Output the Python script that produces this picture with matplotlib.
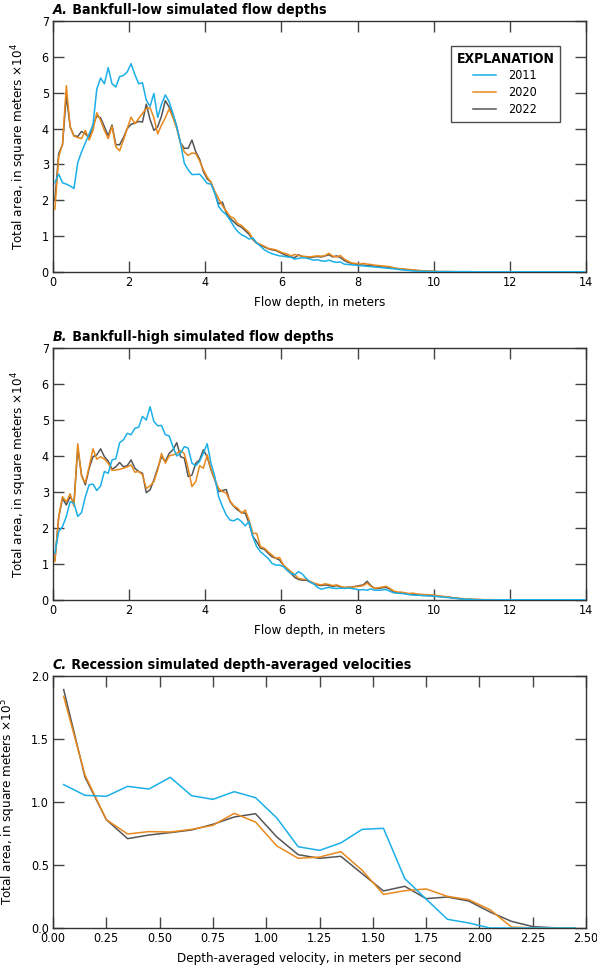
import numpy as np
import matplotlib
matplotlib.use("Agg")
import matplotlib.pyplot as plt
from matplotlib import font_manager as fm
from matplotlib.ticker import FixedLocator, FormatStrFormatter

# ---------------- data ----------------
# Panel A: bankfull-low flow depths (bins of 0.1 m, centred at 0.05, 0.15, ...), area x10^4 m^2
a_2011 = [2.49, 2.73, 2.49, 2.45, 2.40, 2.33, 3.05, 3.35, 3.60, 3.85,
          4.10, 5.10, 5.41, 5.25, 5.70, 5.25, 5.16, 5.45, 5.48, 5.58,
          5.81, 5.51, 5.25, 5.28, 4.79, 4.62, 4.98, 4.31, 4.68, 4.94,
          4.75, 4.42, 4.05, 3.59, 3.03, 2.85, 2.72, 2.72, 2.73, 2.61,
          2.47, 2.45, 2.20, 1.83, 1.69, 1.60, 1.45, 1.27, 1.13, 1.04,
          0.99, 0.92, 0.95, 0.81, 0.72, 0.62, 0.56, 0.51, 0.48, 0.45,
          0.44, 0.42, 0.41, 0.36, 0.38, 0.40, 0.39, 0.36, 0.33, 0.34,
          0.31, 0.30, 0.33, 0.29, 0.27, 0.28, 0.22, 0.21, 0.20, 0.19,
          0.18, 0.17, 0.16, 0.15, 0.14, 0.13, 0.12, 0.11, 0.10, 0.09,
          0.08, 0.06, 0.05, 0.04, 0.03, 0.02, 0.02, 0.02, 0.01, 0.01,
          0.01, 0.01, 0.01, 0.01, 0.01, 0.01, 0.01, 0.01, 0.01, 0.01,
          0.005, 0.005, 0.005, 0.005, 0.005, 0.005, 0.005, 0.005, 0.005, 0.005,
          0.005, 0.005, 0.005, 0.005, 0.005, 0.005, 0.005, 0.005, 0.005, 0.005,
          0.005, 0.005, 0.005, 0.005, 0.005, 0.005, 0.005, 0.005, 0.005, 0.005]
a_2020 = [1.75, 3.21, 3.58, 5.20, 4.05, 3.79, 3.75, 3.72, 3.95, 3.68,
          3.95, 4.44, 4.23, 3.95, 3.72, 4.06, 3.49, 3.38, 3.68, 4.00,
          4.32, 4.14, 4.28, 4.42, 4.56, 4.58, 4.30, 3.85, 4.10, 4.30,
          4.55, 4.30, 4.00, 3.60, 3.35, 3.25, 3.32, 3.30, 3.10, 2.85,
          2.65, 2.50, 2.25, 2.05, 1.85, 1.70, 1.55, 1.50, 1.35, 1.30,
          1.20, 1.10, 0.92, 0.82, 0.77, 0.72, 0.66, 0.64, 0.62, 0.57,
          0.53, 0.50, 0.45, 0.49, 0.46, 0.44, 0.43, 0.42, 0.44, 0.45,
          0.44, 0.46, 0.52, 0.44, 0.42, 0.46, 0.36, 0.30, 0.25, 0.24,
          0.22, 0.24, 0.22, 0.21, 0.19, 0.18, 0.17, 0.16, 0.15, 0.12,
          0.10, 0.09, 0.08, 0.07, 0.06, 0.05, 0.04, 0.03, 0.02, 0.02,
          0.02, 0.01, 0.01, 0.01, 0.01, 0.01, 0.005, 0.005, 0.005, 0.005,
          0.005, 0.005, 0.005, 0.005, 0.005, 0.005, 0.0, 0.0, 0.0, 0.0]
a_2022 = [2.00, 3.30, 3.55, 4.92, 4.05, 3.80, 3.78, 3.92, 3.85, 3.75,
          4.10, 4.35, 4.30, 4.05, 3.80, 4.10, 3.55, 3.55, 3.75, 4.00,
          4.12, 4.15, 4.20, 4.18, 4.68, 4.25, 3.95, 4.05, 4.35, 4.78,
          4.60, 4.40, 4.05, 3.60, 3.45, 3.45, 3.68, 3.35, 3.15, 2.80,
          2.60, 2.50, 2.20, 1.90, 1.95, 1.65, 1.50, 1.40, 1.30, 1.25,
          1.15, 1.05, 0.90, 0.80, 0.75, 0.70, 0.65, 0.62, 0.60, 0.55,
          0.50, 0.45, 0.42, 0.40, 0.48, 0.43, 0.42, 0.40, 0.42, 0.43,
          0.42, 0.45, 0.48, 0.42, 0.45, 0.40, 0.32, 0.27, 0.24, 0.22,
          0.20, 0.19, 0.18, 0.18, 0.16, 0.15, 0.14, 0.13, 0.12, 0.10,
          0.09, 0.08, 0.07, 0.06, 0.05, 0.04, 0.03, 0.03, 0.02, 0.02,
          0.01, 0.01, 0.01, 0.01, 0.01, 0.005, 0.005, 0.005, 0.005, 0.005,
          0.005, 0.005, 0.005, 0.005, 0.0, 0.0, 0.0, 0.0, 0.0, 0.0]

# Panel B: bankfull-high flow depths, area x10^4 m^2
b_2011 = [1.30, 1.90, 2.04, 2.32, 2.73, 2.69, 2.32, 2.43, 2.87, 3.20,
          3.22, 3.04, 3.17, 3.57, 3.52, 3.89, 3.92, 4.37, 4.45, 4.63,
          4.59, 4.77, 4.80, 5.10, 5.00, 5.37, 4.96, 4.84, 4.85, 4.59,
          4.56, 4.26, 4.00, 4.08, 4.26, 4.22, 3.80, 3.73, 3.85, 4.08,
          4.34, 3.80, 3.43, 2.87, 2.60, 2.36, 2.22, 2.20, 2.26, 2.18,
          2.06, 2.18, 1.76, 1.48, 1.34, 1.25, 1.16, 1.02, 0.97, 0.97,
          0.93, 0.83, 0.74, 0.70, 0.79, 0.72, 0.60, 0.50, 0.45, 0.35,
          0.30, 0.33, 0.35, 0.33, 0.32, 0.33, 0.32, 0.33, 0.32, 0.30,
          0.28, 0.29, 0.27, 0.31, 0.27, 0.27, 0.28, 0.29, 0.24, 0.20,
          0.19, 0.18, 0.17, 0.15, 0.14, 0.13, 0.13, 0.12, 0.12, 0.11,
          0.10, 0.09, 0.08, 0.07, 0.06, 0.05, 0.04, 0.03, 0.02, 0.02,
          0.01, 0.005, 0.005, 0.005, 0.005, 0.005, 0.005, 0.005, 0.005, 0.005,
          0.005, 0.005, 0.005, 0.005, 0.005, 0.005, 0.005, 0.005, 0.005, 0.005,
          0.005, 0.005, 0.005, 0.005, 0.005, 0.005, 0.005, 0.005, 0.005, 0.005]
b_2020 = [1.07, 2.32, 2.87, 2.73, 2.95, 2.60, 4.34, 3.43, 3.26, 3.70,
          4.20, 3.91, 3.98, 3.91, 3.80, 3.60, 3.61, 3.63, 3.66, 3.70,
          3.75, 3.55, 3.57, 3.48, 3.10, 3.17, 3.29, 3.61, 4.07, 3.80,
          4.00, 4.03, 4.07, 4.15, 4.06, 3.66, 3.15, 3.29, 3.73, 3.66,
          4.03, 3.63, 3.35, 3.10, 3.01, 2.97, 2.75, 2.61, 2.55, 2.41,
          2.50, 2.22, 1.85, 1.85, 1.48, 1.44, 1.34, 1.25, 1.16, 1.18,
          0.97, 0.88, 0.79, 0.70, 0.60, 0.58, 0.57, 0.52, 0.47, 0.44,
          0.42, 0.45, 0.43, 0.40, 0.42, 0.38, 0.35, 0.36, 0.36, 0.37,
          0.38, 0.40, 0.47, 0.38, 0.33, 0.34, 0.36, 0.38, 0.32, 0.25,
          0.22, 0.22, 0.20, 0.18, 0.19, 0.17, 0.16, 0.15, 0.15, 0.14,
          0.13, 0.11, 0.10, 0.09, 0.07, 0.06, 0.05, 0.04, 0.03, 0.03,
          0.02, 0.02, 0.01, 0.01, 0.01, 0.01, 0.005, 0.005, 0.0, 0.0]
b_2022 = [1.11, 2.30, 2.83, 2.64, 2.87, 2.69, 4.22, 3.47, 3.20, 3.66,
          3.98, 4.03, 4.20, 3.98, 3.86, 3.63, 3.70, 3.82, 3.70, 3.73,
          3.89, 3.66, 3.57, 3.52, 2.98, 3.06, 3.34, 3.66, 3.98, 3.85,
          4.07, 4.17, 4.37, 3.98, 3.94, 3.43, 3.47, 3.80, 3.89, 4.17,
          3.98, 3.61, 3.34, 3.01, 3.04, 3.07, 2.73, 2.60, 2.50, 2.43,
          2.41, 2.13, 1.76, 1.62, 1.44, 1.41, 1.30, 1.20, 1.16, 1.11,
          0.97, 0.83, 0.74, 0.63, 0.57, 0.55, 0.55, 0.50, 0.45, 0.42,
          0.40, 0.42, 0.40, 0.38, 0.40, 0.36, 0.34, 0.35, 0.36, 0.38,
          0.40, 0.42, 0.52, 0.40, 0.32, 0.32, 0.34, 0.35, 0.30, 0.22,
          0.20, 0.20, 0.18, 0.16, 0.15, 0.14, 0.13, 0.13, 0.12, 0.12,
          0.11, 0.10, 0.09, 0.08, 0.07, 0.05, 0.04, 0.03, 0.02, 0.02,
          0.01, 0.01, 0.01, 0.005, 0.005, 0.0]

# Panel C: recession depth-averaged velocities (bins of 0.1 m/s), area x10^5 m^2
c_2011 = [1.138, 1.053, 1.045, 1.124, 1.103, 1.196, 1.050, 1.021, 1.082, 1.034,
          0.873, 0.645, 0.616, 0.675, 0.783, 0.791, 0.392, 0.230, 0.069, 0.040,
          0.0, 0.0, 0.0, 0.0, 0.0]
c_2020 = [1.839, 1.214, 0.860, 0.746, 0.765, 0.762, 0.783, 0.815, 0.910, 0.841,
          0.651, 0.553, 0.563, 0.606, 0.458, 0.267, 0.296, 0.310, 0.251, 0.225,
          0.145, 0.008, 0.0, 0.0, 0.0]
c_2022 = [1.892, 1.198, 0.860, 0.709, 0.738, 0.757, 0.778, 0.823, 0.881, 0.907,
          0.722, 0.582, 0.553, 0.569, 0.431, 0.294, 0.331, 0.233, 0.246, 0.214,
          0.127, 0.053, 0.011, 0.002, 0.0]

years = ["2011", "2020", "2022"]
colors = {"2011": "#1BAFE8", "2020": "#E8891E", "2022": "#555555"}
zorders = {"2011": 4, "2020": 3, "2022": 2}

titles = [("A.", "Bankfull-low simulated flow depths"),
          ("B.", "Bankfull-high simulated flow depths"),
          ("C.", "Recession simulated depth-averaged velocities")]
xlabels = ["Flow depth, in meters", "Flow depth, in meters",
           "Depth-averaged velocity, in meters per second"]
ylabels = [r"Total area, in square meters ×10$^{4}$",
           r"Total area, in square meters ×10$^{4}$",
           r"Total area, in square meters ×10$^{5}$"]

# ---------------- fonts ----------------
cond = [f for f in fm.fontManager.ttflist
        if f.name == "DejaVu Sans" and "ondensed" in str(f.stretch).lower() + f.fname]
if cond:
    base = "DejaVu Sans"
    plt.rcParams["font.stretch"] = "condensed"
    scale = 1.0
else:
    base = "Liberation Sans"
    scale = 0.92
plt.rcParams["font.family"] = [base, "DejaVu Sans"]
plt.rcParams["mathtext.fontset"] = "custom"
plt.rcParams["mathtext.rm"] = base

fig = plt.figure(figsize=(5.97, 9.68), dpi=100)
W, H = 597, 968
def rect(l, t, r, b):
    return [l / W, 1 - b / H, (r - l) / W, (b - t) / H]

axA = fig.add_axes(rect(53, 21, 586, 272))
axB = fig.add_axes(rect(53, 348, 586, 600))
axC = fig.add_axes(rect(53, 676, 586, 928))

def bin_centres(n, step, start):
    return start + step * np.arange(n)

for ax, data in [(axA, (a_2011, a_2020, a_2022)), (axB, (b_2011, b_2020, b_2022))]:
    for yr, vals in zip(years, data):
        x = bin_centres(len(vals), 0.1, 0.05)
        ax.plot(x, vals, color=colors[yr], lw=1.1, label=yr, zorder=zorders[yr])
    ax.set_xlim(0, 14)
    ax.set_ylim(0, 7)
    ax.xaxis.set_major_locator(FixedLocator(np.arange(0, 15, 2)))
    ax.yaxis.set_major_locator(FixedLocator(np.arange(0, 8, 1)))

for yr, vals in zip(years, (c_2011, c_2020, c_2022)):
    x = bin_centres(len(vals), 0.1, 0.05)
    axC.plot(x, vals, color=colors[yr], lw=1.1, label=yr, zorder=zorders[yr])
axC.set_xlim(0, 2.5)
axC.set_ylim(0, 2.0)
axC.xaxis.set_major_locator(FixedLocator(np.arange(0, 2.51, 0.25)))
axC.yaxis.set_major_locator(FixedLocator(np.arange(0, 2.01, 0.5)))
axC.xaxis.set_major_formatter(FormatStrFormatter("%.2f"))
axC.yaxis.set_major_formatter(FormatStrFormatter("%.1f"))

for i, ax in enumerate([axA, axB, axC]):
    for s in ax.spines.values():
        s.set_color("#333333")
        s.set_linewidth(1.0)
    ax.tick_params(direction="in", length=8, width=1.0, color="#444444",
                   top=True, right=True, labelsize=9 * scale, pad=3)
    ax.set_xlabel(xlabels[i], fontsize=9.6 * scale, labelpad=5)
    ax.set_ylabel(ylabels[i], fontsize=9.6 * scale, labelpad=9)
    t1 = ax.text(0.0, 1.014, titles[i][0], transform=ax.transAxes,
                 fontsize=10.2 * scale, fontweight="bold", fontstyle="italic",
                 ha="left", va="bottom")
    ax.annotate(" " + titles[i][1], xy=(1, 0), xycoords=t1,
                fontsize=10.2 * scale, fontweight="bold", ha="left", va="bottom")

leg = axA.legend(loc="upper right", bbox_to_anchor=(0.951, 0.90),
                 borderaxespad=0.0,
                 title="EXPLANATION", fontsize=9 * scale, frameon=True,
                 fancybox=False, edgecolor="#222222", handlelength=1.8,
                 handletextpad=1.0, borderpad=0.45, labelspacing=0.3)
leg.get_frame().set_linewidth(1.0)
leg.get_title().set_fontweight("bold")
leg.get_title().set_fontsize(10 * scale)
leg._legend_box.align = "center"

fig.savefig("out.png", dpi=100)
